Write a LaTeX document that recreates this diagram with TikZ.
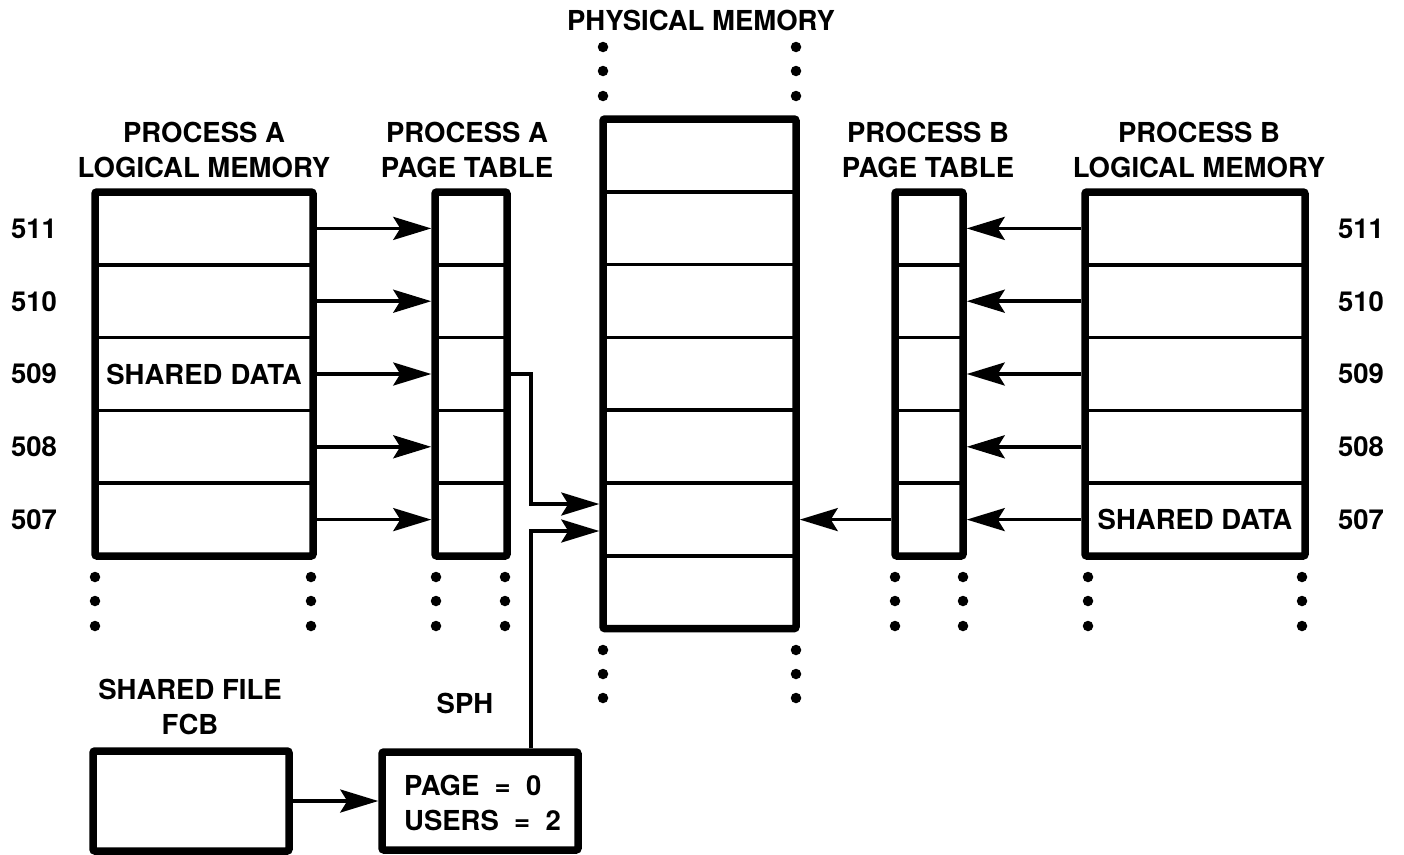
\documentclass[tikz,border=0pt]{standalone}
\usepackage{fontspec}
\setmainfont{TeX Gyre Heros}
\usetikzlibrary{arrows.meta}
\begin{document}
\begin{tikzpicture}[x=1pt,y=-1pt,
  lbl/.style={font=\fontsize{27.5}{35}\selectfont\bfseries, inner sep=0pt, align=center},
  outer/.style={draw, line width=7.5pt, rounded corners=2pt, inner sep=0pt},
  cell/.style={draw, line width=3.5pt, inner sep=0pt, minimum height=72.8pt},
  arr/.style={line width=3.5pt, -{Stealth[length=38pt,width=23pt,inset=7pt]}},
  dot/.style={circle, fill, inner sep=0pt, minimum size=10.5pt}]
\useasboundingbox (0,0) rectangle (1404,854);

% ---------- cells ----------
\foreach \n/\y in {511/228.4, 510/301.2, 509/374, 508/446.8, 507/519.6}{
  \node[cell, minimum width=218pt] (LA\n) at (204,\y) {};
  \node[cell, minimum width=72pt]  (PA\n) at (471,\y) {};
  \node[cell, minimum width=68pt]  (PB\n) at (929,\y) {};
  \node[cell, minimum width=220pt] (LB\n) at (1195,\y) {};
  \node[lbl] (nl\n) at (34,\y) {\n};
  \node[lbl] (nr\n) at (1361,\y) {\n};
}
\foreach \i/\y in {1/155.4, 2/228.2, 3/301, 4/373.8, 5/446.6, 6/519.4, 7/592.2}{
  \node[cell, minimum width=193pt] (P\i) at (699.5,\y) {};
}

% ---------- outer boxes ----------
\node[outer, minimum width=218pt, minimum height=364pt] (LA) at (204,374) {};
\node[outer, minimum width=72pt,  minimum height=364pt] (PA) at (471,374) {};
\node[outer, minimum width=68pt,  minimum height=364pt] (PB) at (929,374) {};
\node[outer, minimum width=220pt, minimum height=364pt] (LB) at (1195,374) {};
\node[outer, minimum width=193pt, minimum height=509.6pt] (PM) at (699.5,373.8) {};
\node[outer, minimum width=196pt, minimum height=100pt] (FCB) at (191,801) {};
\node[outer, minimum width=196pt, minimum height=98pt] (SPH) at (480,801) {};

% ---------- texts ----------
\node[lbl] (tPM) at (701,20) {PHYSICAL MEMORY};
\node[lbl] (tLA) at (204,150) {PROCESS A\\LOGICAL MEMORY};
\node[lbl] (tPA) at (467,150) {PROCESS A\\PAGE TABLE};
\node[lbl] (tPB) at (928,150) {PROCESS B\\PAGE TABLE};
\node[lbl] (tLB) at (1199,150) {PROCESS B\\LOGICAL MEMORY};
\node[lbl] (tFCB) at (190,707) {SHARED FILE\\FCB};
\node[lbl] (tSPH) at (465,703) {SPH};
\node[lbl] at (LA509) {SHARED\hspace{0.3em}DATA};
\node[lbl] at (LB507) {SHARED DATA};
\node[lbl, align=left, anchor=west] (tSPHin) at (404,803) {PAGE \ =\ \ 0\\USERS \ =\ \ 2};

% ---------- connectors ----------
\foreach \n in {511,510,509,508,507}{
  \draw[arr] (LA.east |- LA\n) -- (PA.west |- LA\n);
  \draw[arr] (LB.west |- LB\n) -- (PB.east |- LB\n);
}
\coordinate (c1) at (531,504);
\coordinate (c2) at (531,531);
\draw[arr] (PA.east |- PA509) -- (c1 |- PA509) -- (c1) -- (PM.west |- c1);
\draw[arr] (SPH.north -| c2) -- (c2) -- (PM.west |- c2);
\draw[arr] (PB.west |- PB507) -- (PM.east |- PB507);
\draw[arr] (FCB.east |- 0,801) -- (SPH.west |- 0,801);

% ---------- dots ----------
\foreach \x in {95,311,436,505,895,963,1088,1302}{
  \foreach \y in {577,601,626}{
    \node[dot] at (\x,\y) {};
  }
}
\foreach \x in {603,796}{
  \foreach \y in {47,71,96,650,674,698}{
    \node[dot] at (\x,\y) {};
  }
}
\end{tikzpicture}
\end{document}
